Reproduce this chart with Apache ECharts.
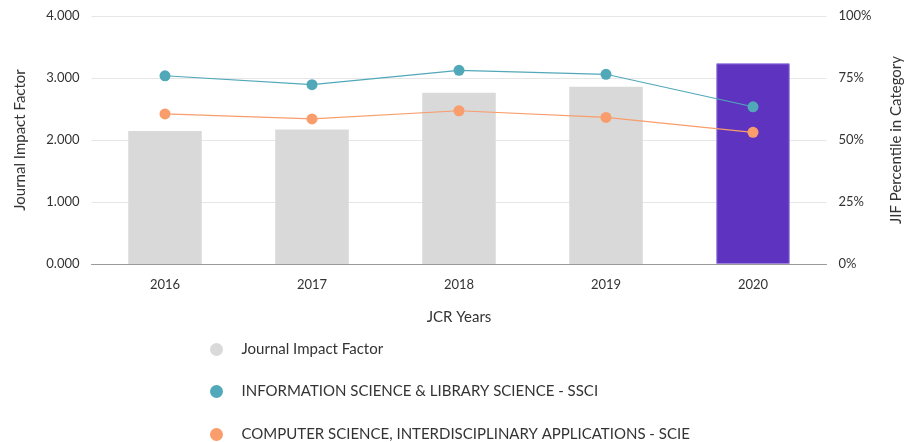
<!DOCTYPE html>
<html><head><meta charset="utf-8">
<script src="https://cdn.jsdelivr.net/npm/echarts@6/dist/echarts.min.js"></script>
<style>html,body{margin:0;padding:0;background:#fff;overflow:hidden}#c{width:906px;height:442px}</style>
</head><body><div id="c"></div>
<script>
const years = ['2016','2017','2018','2019','2020'];
const jif = [2.145, 2.170, 2.763, 2.860, 3.237];
const isls = [75.9, 72.3, 78.1, 76.5, 63.4];
const csia = [60.5, 58.5, 61.8, 59.1, 53.1];
const leftTicks = ['0.000','1.000','2.000','3.000','4.000'];
const seriesNames = ['Journal Impact Factor','INFORMATION SCIENCE & LIBRARY SCIENCE - SSCI','COMPUTER SCIENCE, INTERDISCIPLINARY APPLICATIONS - SCIE'];

const FONT = 'Lato';
const legendTops = [337, 379, 422];
const chart = echarts.init(document.getElementById('c'), null, {renderer:'canvas'});
chart.setOption({
  animation:false,
  textStyle:{fontFamily:FONT},
  grid:{left:91.5,width:735,top:16,height:248,containLabel:false,outerBoundsMode:'none'},
  legend:seriesNames.map((n,i)=>({
    orient:'horizontal', left:205, top:legendTops[i],
    itemWidth:40, itemHeight:13, icon:'circle',
    textStyle:{fontFamily:FONT,fontSize:15,color:'#333'},
    data:[n]
  })),
  xAxis:{
    type:'category', data:years,
    name:'JCR Years', nameLocation:'middle', nameGap:46,
    nameTextStyle:{fontFamily:FONT,fontSize:15,color:'#333'},
    axisLine:{lineStyle:{color:'#999'}},
    axisTick:{show:false},
    axisLabel:{fontSize:13,color:'#333',margin:14}
  },
  yAxis:[{
    type:'value', min:0, max:4, interval:1,
    name:'Journal Impact Factor', nameLocation:'middle', nameGap:64,
    nameTextStyle:{fontFamily:FONT,fontSize:15,color:'#333'},
    axisLine:{show:false}, axisTick:{show:false},
    axisLabel:{fontSize:13,color:'#333',margin:12,formatter:(v)=>leftTicks[Math.round(v)]},
    splitLine:{lineStyle:{color:'#e6e6e6'}}
  },{
    type:'value', min:0, max:100, interval:25,
    name:'JIF Percentile in Category', nameLocation:'middle', nameGap:62,
    nameTextStyle:{fontFamily:FONT,fontSize:15,color:'#333'},
    axisLine:{show:false}, axisTick:{show:false},
    axisLabel:{fontSize:13,color:'#333',margin:12,formatter:'{value}%'},
    splitLine:{show:false}
  }],
  series:[{
    name:seriesNames[0], type:'bar', barWidth:'50%',
    itemStyle:{color:'#d9d9d9'},
    data:jif.map((v,i)=> i===jif.length-1 ? {value:v,itemStyle:{color:'#5e33bf',borderColor:'#9b82dc',borderWidth:1}} : v)
  },{
    name:seriesNames[1], type:'line', yAxisIndex:1, data:isls,
    symbol:'circle', symbolSize:11, color:'#51a8b9',
    lineStyle:{width:1.2,color:'#51a8b9'}, itemStyle:{color:'#51a8b9'}, z:3
  },{
    name:seriesNames[2], type:'line', yAxisIndex:1, data:csia,
    symbol:'circle', symbolSize:11, color:'#f89d6b',
    lineStyle:{width:1.2,color:'#f89d6b'}, itemStyle:{color:'#f89d6b'}, z:3
  }]
});
</script></body></html>
